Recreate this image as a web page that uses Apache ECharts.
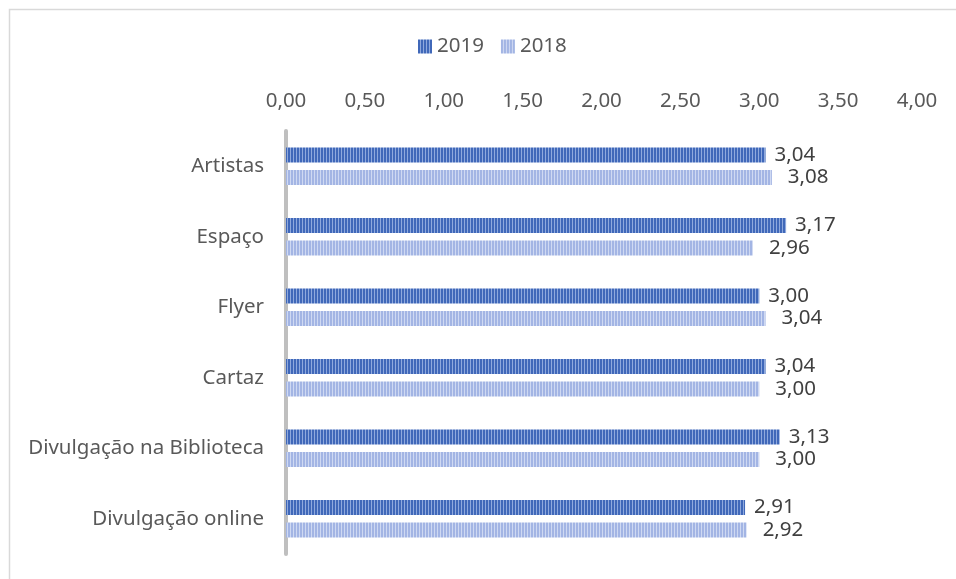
<!DOCTYPE html>
<html><head><meta charset="utf-8">
<script src="https://cdn.jsdelivr.net/npm/echarts@6/dist/echarts.min.js"></script>
<style>html,body{margin:0;padding:0;background:#fff}#c{width:956px;height:579px}</style>
</head><body><div id="c"></div>
<script>
const categories = ["Artistas", "Espaço", "Flyer", "Cartaz", "Divulgação na Biblioteca", "Divulgação online"];
const values2019 = [3.04, 3.17, 3.00, 3.04, 3.13, 2.91];
const values2018 = [3.08, 2.96, 3.04, 3.00, 3.00, 2.92];
const seriesNames = ["2019", "2018"];

function stripe(c1, c2) {
  const cv = document.createElement('canvas');
  cv.width = 3; cv.height = 4;
  const ctx = cv.getContext('2d');
  ctx.fillStyle = c1; ctx.fillRect(0, 0, 2, 4);
  ctx.fillStyle = c2; ctx.fillRect(2, 0, 1, 4);
  return { image: cv, repeat: 'repeat' };
}
const dark = stripe('#4068b9', '#8fa9dd');
const light = stripe('#a3b5e4', '#cfd9f2');
const font = 'Noto Sans';
const fs = 20.5;
const fmt = v => v.toFixed(2).replace('.', ',');

const chart = echarts.init(document.getElementById('c'));
chart.setOption({
  animation: false,
  textStyle: { fontFamily: font },
  graphic: [{ type: 'rect', left: 7, top: 7, shape: { width: 1200, height: 1200 }, style: { fill: 'none', stroke: '#d9d9d9', lineWidth: 1.5 } }],
  legend: {
    top: 31, left: 413, itemWidth: 14, itemHeight: 14, itemGap: 17,
    icon: 'rect',
    textStyle: { fontFamily: font, fontSize: fs, color: '#595959' },
    data: [{ name: '2019', itemStyle: { color: dark } }, { name: '2018', itemStyle: { color: light } }]
  },
  grid: { left: 286, right: 39, top: 131, bottom: 25, containLabel: false },
  xAxis: {
    type: 'value', position: 'top', min: 0, max: 4, interval: 0.5,
    axisLabel: { fontFamily: font, fontSize: fs, color: '#595959', formatter: fmt, margin: 19 },
    splitLine: { show: false }, axisLine: { show: false }, axisTick: { show: false }
  },
  yAxis: {
    type: 'category', data: categories, inverse: true,
    axisLine: { show: true, lineStyle: { color: '#bfbfbf', width: 4 } },
    axisTick: { show: false },
    axisLabel: { fontFamily: font, fontSize: fs, color: '#595959', margin: 22 }
  },
  series: [
    { name: seriesNames[0], type: 'bar', data: values2019, barWidth: 15, barGap: '50%',
      itemStyle: { color: dark },
      label: { show: true, position: 'right', distance: 9, formatter: p => fmt(p.value), fontFamily: font, fontSize: fs, color: '#404040' } },
    { name: seriesNames[1], type: 'bar', data: values2018, barWidth: 15, barGap: '50%',
      itemStyle: { color: light },
      label: { show: true, position: 'right', distance: 16, formatter: p => fmt(p.value), fontFamily: font, fontSize: fs, color: '#404040' } }
  ]
});
</script></body></html>
